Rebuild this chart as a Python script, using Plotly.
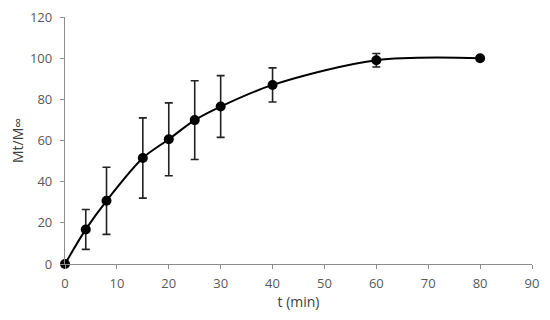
import plotly.graph_objects as go

t_min = [0, 4, 8, 15, 20, 25, 30, 40, 60, 80]
release = [0, 16.8, 30.7, 51.5, 60.6, 69.9, 76.5, 87.0, 99.0, 100.0]
release_sd = [0, 9.7, 16.3, 19.5, 17.7, 19.1, 15.0, 8.3, 3.3, 0]
x_ticks = [0, 10, 20, 30, 40, 50, 60, 70, 80, 90]
y_ticks = [0, 20, 40, 60, 80, 100, 120]

fig = go.Figure()
fig.add_trace(go.Scatter(
    x=t_min, y=release,
    mode="lines+markers",
    line=dict(color="black", width=2, shape="spline", smoothing=0.9),
    marker=dict(color="black", size=10),
    error_y=dict(type="data", array=release_sd, visible=True,
                 color="#222222", thickness=1.6, width=4),
    showlegend=False,
    cliponaxis=False,
))

tick_font = dict(family="Open Sans, sans-serif", size=13, color="#595959")
title_font = dict(family="Open Sans, sans-serif", size=14, color="#404040")
fig.update_layout(
    width=550, height=320,
    margin=dict(l=65, r=18, t=17, b=56),
    plot_bgcolor="white", paper_bgcolor="white",
    xaxis=dict(range=[0, 90], tickvals=x_ticks, showgrid=False, zeroline=False,
               showline=True, linecolor="#8c8c8c", linewidth=1.3,
               ticks="outside", ticklen=4, tickcolor="#8c8c8c",
               tickfont=tick_font, ticklabelstandoff=3, automargin=False,
               title=dict(text="t (min)", font=title_font, standoff=4)),
    yaxis=dict(range=[0, 120], tickvals=y_ticks, showgrid=False, zeroline=False,
               showline=True, linecolor="#8c8c8c", linewidth=1.3,
               ticks="outside", ticklen=4, tickcolor="#8c8c8c",
               tickfont=tick_font, ticklabelstandoff=5, automargin=False,
               title=dict(text="Mt/M∞", font=title_font, standoff=3)),
)
fig.write_html("out.html", config={"displayModeBar": False},
               post_script="document.body.style.margin='0px';")
